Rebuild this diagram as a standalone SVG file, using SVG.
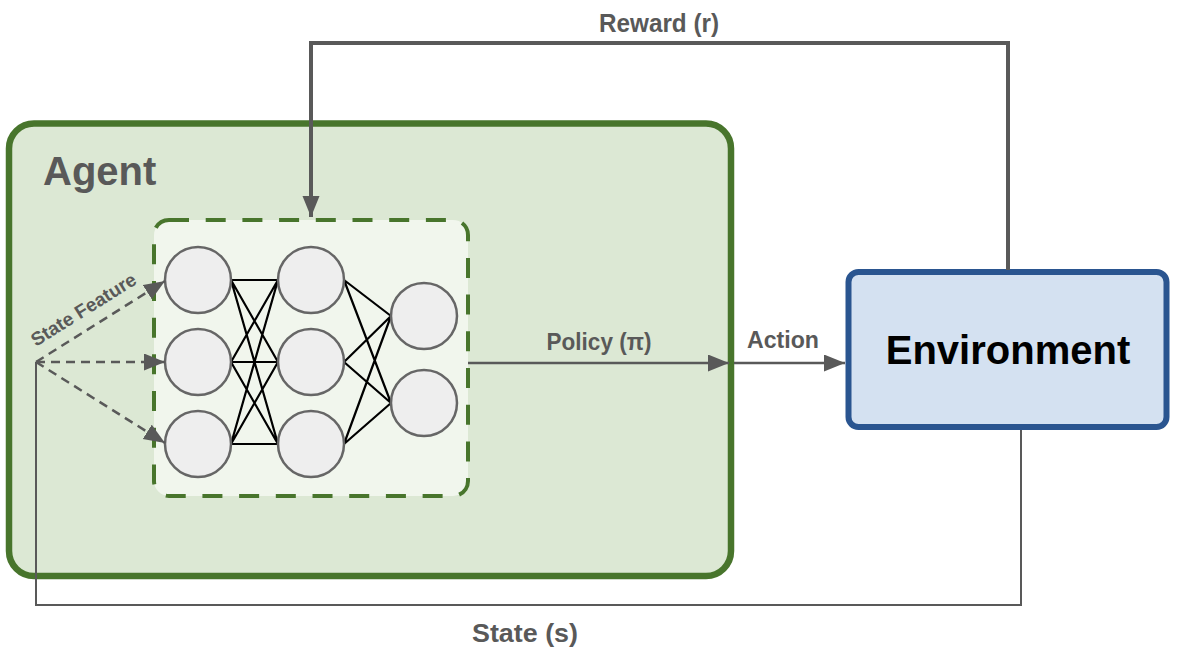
<svg xmlns="http://www.w3.org/2000/svg" width="1182" height="652" viewBox="0 0 1182 652">
<style>
.lbl{font-family:"Liberation Sans",Arial,sans-serif;font-weight:bold;fill:#595959}
.neuron{fill:#eeeeee;stroke:#666666;stroke-width:2.5}
.edge{stroke:#000000;stroke-width:2.2;fill:none}
.conn{stroke:#595959;fill:none}
</style>
<defs>
<marker id="ah" markerUnits="userSpaceOnUse" markerWidth="22" markerHeight="18" refX="21" refY="8.5" orient="auto">
<path d="M0,0 L21,8.5 L0,17 z" fill="#595959"/>
</marker>
</defs>
<rect width="1182" height="652" fill="#ffffff"/>
<g id="agent">
<rect x="9" y="123.5" width="722" height="452.5" rx="25" fill="#dce8d4" stroke="#48752c" stroke-width="6.5"/>
<text class="lbl" x="43" y="185" font-size="40">Agent</text>
</g>
<g id="policy-network">
<rect x="154" y="220" width="314" height="276" rx="15" fill="#f1f6ed" stroke="#48752c" stroke-width="4" stroke-dasharray="20 16.7"/>
<g id="edges">
<path class="edge" d="M231,280 L278,280 M231,280 L278,362 M231,280 L278,444 M231,362 L278,280 M231,362 L278,362 M231,362 L278,444 M231,444 L278,280 M231,444 L278,362 M231,444 L278,444"/>
<path class="edge" d="M344,280 L391,316 M344,280 L391,403 M344,362 L391,316 M344,362 L391,403 M344,444 L391,316 M344,444 L391,403"/>
</g>
<g id="layer1">
<circle id="n11" class="neuron" cx="198" cy="280" r="33"/>
<circle id="n12" class="neuron" cx="198" cy="362" r="33"/>
<circle id="n13" class="neuron" cx="198" cy="444" r="33"/>
</g>
<g id="layer2">
<circle id="n21" class="neuron" cx="311" cy="280" r="33"/>
<circle id="n22" class="neuron" cx="311" cy="362" r="33"/>
<circle id="n23" class="neuron" cx="311" cy="444" r="33"/>
</g>
<g id="layer3">
<circle id="n31" class="neuron" cx="424" cy="316" r="33"/>
<circle id="n32" class="neuron" cx="424" cy="403" r="33"/>
</g>
</g>
<g id="environment">
<rect x="848.5" y="272" width="318" height="155" rx="10" fill="#d4e1f1" stroke="#2a5590" stroke-width="6"/>
<text x="1008" y="364" font-family="Liberation Sans, Arial, sans-serif" font-weight="bold" font-size="40" fill="#000000" text-anchor="middle">Environment</text>
</g>
<g id="connectors">
<path id="reward" class="conn" stroke-width="4" d="M1008,270 L1008,43 L311,43 L311,217" marker-end="url(#ah)"/>
<text class="lbl" x="659" y="32" font-size="25" text-anchor="middle" textLength="120" lengthAdjust="spacingAndGlyphs">Reward (r)</text>
<path id="state" class="conn" stroke-width="2" d="M1021,430 L1021,605 L36,605 L36,362"/>
<text class="lbl" x="525" y="642" font-size="25" text-anchor="middle" textLength="106" lengthAdjust="spacingAndGlyphs">State (s)</text>
<path id="sf1" class="conn" stroke-width="2.5" stroke-dasharray="9 6" d="M36,362 L165,281" marker-end="url(#ah)"/>
<path id="sf2" class="conn" stroke-width="2.5" stroke-dasharray="9 6" d="M36,362 L165,362" marker-end="url(#ah)"/>
<path id="sf3" class="conn" stroke-width="2.5" stroke-dasharray="9 6" d="M36,362 L165,443" marker-end="url(#ah)"/>
<text class="lbl" font-size="19" text-anchor="middle" transform="translate(87,315) rotate(-32)">State Feature</text>
<path id="policy" class="conn" stroke-width="2.5" d="M468,363 L729,363" marker-end="url(#ah)"/>
<text class="lbl" x="599" y="350" font-size="24" text-anchor="middle" textLength="105" lengthAdjust="spacingAndGlyphs">Policy (π)</text>
<path id="action" class="conn" stroke-width="2.5" d="M734,363 L845,363" marker-end="url(#ah)"/>
<text class="lbl" x="783" y="348" font-size="23" text-anchor="middle" textLength="72" lengthAdjust="spacingAndGlyphs">Action</text>
</g>
</svg>
